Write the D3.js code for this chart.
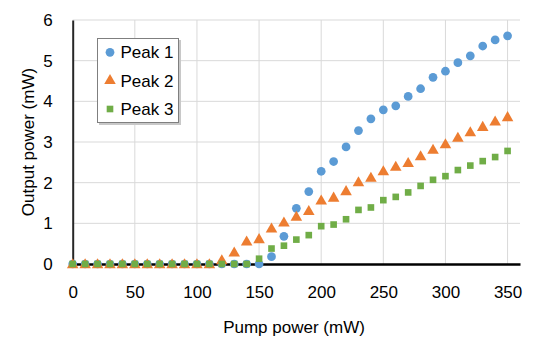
<!DOCTYPE html>
<html lang="en">
<head>
<meta charset="utf-8">
<title>Output vs pump power</title>
<script src="https://cdn.jsdelivr.net/npm/d3@7"></script>
<style>
  body { margin: 0; background: #fff; }
  svg text { font-family: "Liberation Sans", Arial, sans-serif; fill: #000; }
</style>
</head>
<body>
<script>
// pump power (mW), 0..350 every 10
var pump = [0, 10, 20, 30, 40, 50, 60, 70, 80, 90, 100, 110, 120, 130, 140, 150, 160, 170,
            180, 190, 200, 210, 220, 230, 240, 250, 260, 270, 280, 290, 300, 310, 320, 330, 340, 350];

// output power (mW)
var peak1 = [0, 0, 0, 0, 0, 0, 0, 0, 0, 0, 0, 0, 0, 0, 0, 0, 0.18, 0.68,
             1.37, 1.78, 2.28, 2.52, 2.88, 3.28, 3.57, 3.79, 3.89, 4.12, 4.31, 4.59, 4.74, 4.95, 5.12, 5.36, 5.51, 5.61];
var peak2 = [0, 0, 0, 0, 0, 0, 0, 0, 0, 0, 0, 0, 0.1, 0.29, 0.56, 0.62, 0.88, 1.03,
             1.17, 1.31, 1.57, 1.64, 1.80, 2.02, 2.13, 2.29, 2.40, 2.49, 2.66, 2.82, 2.95, 3.11, 3.25, 3.38, 3.51, 3.62];
var peak3 = [0, 0, 0, 0, 0, 0, 0, 0, 0, 0, 0, 0, 0, 0, 0, 0.13, 0.38, 0.45,
             0.60, 0.71, 0.93, 0.97, 1.10, 1.33, 1.39, 1.57, 1.65, 1.76, 1.92, 2.07, 2.16, 2.31, 2.42, 2.53, 2.63, 2.78];

var seriesNames = ["Peak 1", "Peak 2", "Peak 3"];
var seriesColors = ["#5b9bd5", "#ed7d31", "#70ad47"];
var xTicks = [0, 50, 100, 150, 200, 250, 300, 350];
var yTicks = [0, 1, 2, 3, 4, 5, 6];

var width = 545, height = 352;
var plot = {left: 72.7, right: 520, top: 20, bottom: 264};
var fontSize = "17px";

var svg = d3.select("body").append("svg")
    .attr("width", width)
    .attr("height", height);

var xScale = d3.scaleLinear().domain([0, 360]).range([plot.left, plot.right]);
var yScale = d3.scaleLinear().domain([0, 6]).range([plot.bottom, plot.top]);

// grid lines
svg.append("g").selectAll("line.h")
    .data(yTicks.slice(1))
    .enter().append("line")
    .attr("x1", plot.left).attr("x2", plot.right)
    .attr("y1", function(d) { return yScale(d); })
    .attr("y2", function(d) { return yScale(d); })
    .attr("stroke", "#d9d9d9").attr("stroke-width", 1);

svg.append("g").selectAll("line.v")
    .data(xTicks.slice(1))
    .enter().append("line")
    .attr("x1", function(d) { return xScale(d); })
    .attr("x2", function(d) { return xScale(d); })
    .attr("y1", plot.top).attr("y2", plot.bottom)
    .attr("stroke", "#d9d9d9").attr("stroke-width", 1);

// y axis
var yAxis = d3.axisLeft(yScale).tickValues(yTicks).tickFormat(d3.format("d"))
    .tickSize(0).tickPadding(20);
var gy = svg.append("g")
    .attr("transform", "translate(" + plot.left + ",0)")
    .call(yAxis);
gy.select(".domain").attr("stroke", "#262626").attr("stroke-width", 2);
gy.selectAll("text").style("font-size", fontSize);

// x axis (drawn at y = 0)
var xAxis = d3.axisBottom(xScale).tickValues(xTicks).tickSize(0).tickPadding(22);
var gx = svg.append("g")
    .attr("transform", "translate(0," + yScale(0) + ")")
    .call(xAxis);
gx.select(".domain").attr("stroke", "#000").attr("stroke-width", 2.5);
gx.selectAll("text").style("font-size", fontSize);

// axis titles
svg.append("text")
    .attr("x", 294)
    .attr("y", 333)
    .attr("text-anchor", "middle")
    .style("font-size", fontSize)
    .text("Pump power (mW)");

svg.append("text")
    .attr("transform", "translate(34," + ((plot.top + plot.bottom) / 2) + ") rotate(-90)")
    .attr("text-anchor", "middle")
    .style("font-size", fontSize)
    .text("Output power (mW)");

// markers
var symbols = [d3.symbolCircle, d3.symbolTriangle, d3.symbolSquare];
var sizes = [60, 58, 44];
var allSeries = [peak1, peak2, peak3];

allSeries.forEach(function(vals, i) {
    var sym = d3.symbol().type(symbols[i]).size(sizes[i]);
    svg.append("g").selectAll("path")
        .data(vals)
        .enter().append("path")
        .attr("d", sym)
        .attr("transform", function(d, j) {
            var dy = i == 1 ? 1 : 0;
            return "translate(" + xScale(pump[j]) + "," + (yScale(d) + dy) + ")";
        })
        .attr("fill", seriesColors[i]);
});

// legend
var legend = svg.append("g");
legend.append("rect")
    .attr("x", 99).attr("y", 40).attr("width", 82).attr("height", 85)
    .attr("fill", "#c8c8c8");
legend.append("rect")
    .attr("x", 97.5).attr("y", 38.5).attr("width", 81).attr("height", 84)
    .attr("fill", "#fff").attr("stroke", "#7f7f7f").attr("stroke-width", 1);

var legendY = [52.3, 80.7, 109];
seriesNames.forEach(function(name, i) {
    var sym = d3.symbol().type(symbols[i]).size(sizes[i]);
    legend.append("path")
        .attr("d", sym)
        .attr("transform", "translate(110," + legendY[i] + ")")
        .attr("fill", seriesColors[i]);
    legend.append("text")
        .attr("x", 120.5)
        .attr("y", legendY[i])
        .attr("dy", "0.35em")
        .style("font-size", fontSize)
        .text(name);
});
</script>
</body>
</html>
